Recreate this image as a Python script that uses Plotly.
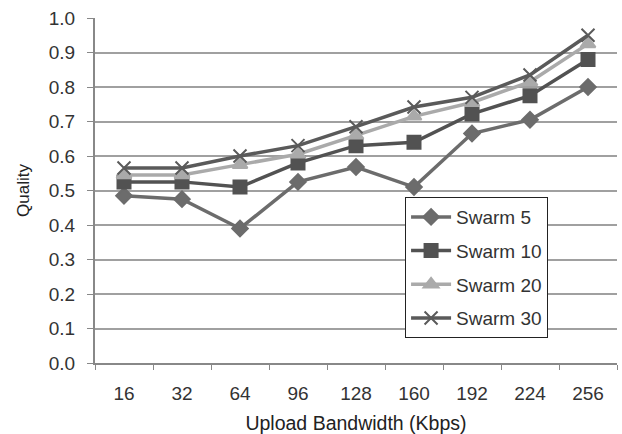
import plotly.graph_objects as go

categories = ["16", "32", "64", "96", "128", "160", "192", "224", "256"]
swarm5 = [0.485, 0.475, 0.39, 0.525, 0.568, 0.51, 0.665, 0.705, 0.80]
swarm10 = [0.525, 0.525, 0.51, 0.58, 0.63, 0.64, 0.722, 0.775, 0.88]
swarm20 = [0.545, 0.545, 0.575, 0.605, 0.66, 0.715, 0.755, 0.815, 0.925]
swarm30 = [0.565, 0.565, 0.60, 0.63, 0.685, 0.742, 0.77, 0.835, 0.95]
y_ticks = [0.0, 0.1, 0.2, 0.3, 0.4, 0.5, 0.6, 0.7, 0.8, 0.9, 1.0]

series = [
    ("Swarm 5", swarm5, "#6c6c6c", "diamond", 12),
    ("Swarm 10", swarm10, "#525252", "square", 13),
    ("Swarm 20", swarm20, "#aaaaaa", "triangle-up", 13),
    ("Swarm 30", swarm30, "#5a5a5a", "x-thin-open", 13),
]

fig = go.Figure()
for name, vals, color, sym, size in series:
    fig.add_trace(go.Scatter(
        x=categories, y=vals, name=name, mode="lines+markers",
        legendgroup=name,
        line=dict(color=color, width=3.5),
        marker=dict(symbol=sym, size=size, color=color,
                    line=dict(color=color, width=2)),
    ))

font = "Liberation Sans, Arial, sans-serif"
fig.update_layout(
    width=622, height=434,
    margin=dict(l=95, r=5, t=18, b=71),
    paper_bgcolor="white", plot_bgcolor="white",
    font=dict(family=font, color="#333333"),
    showlegend=True,
    legend=dict(
        x=0.594, y=0.481, xanchor="left", yanchor="top",
        bgcolor="white", bordercolor="#222222", borderwidth=1,
        font=dict(size=19, color="#333333"),
        tracegroupgap=6, itemwidth=40,
    ),
    xaxis=dict(
        type="category", range=[-0.5, 8.5], automargin=False,
        tickson="boundaries", ticks="outside", ticklen=5,
        tickcolor="#888888", showline=True, linecolor="#888888", linewidth=2,
        showgrid=False, tickfont=dict(size=19, color="#333333"),
        ticklabelstandoff=12,
        title=dict(text="Upload Bandwidth (Kbps)", font=dict(size=19.5, color="#222222"), standoff=15),
    ),
    yaxis=dict(
        range=[0, 1.0], tickvals=y_ticks, ticktext=[f"{v:.1f}" for v in y_ticks],
        automargin=False,
        ticks="outside", ticklen=6, tickcolor="#888888",
        showline=True, linecolor="#888888", linewidth=2,
        showgrid=True, gridcolor="#a0a0a0", gridwidth=1.5,
        tickfont=dict(size=19, color="#333333"), ticklabelstandoff=8,
        title=dict(text="Quality", font=dict(size=17, color="#222222"), standoff=15),
        zeroline=False,
    ),
)

fig.write_html("out.html")
